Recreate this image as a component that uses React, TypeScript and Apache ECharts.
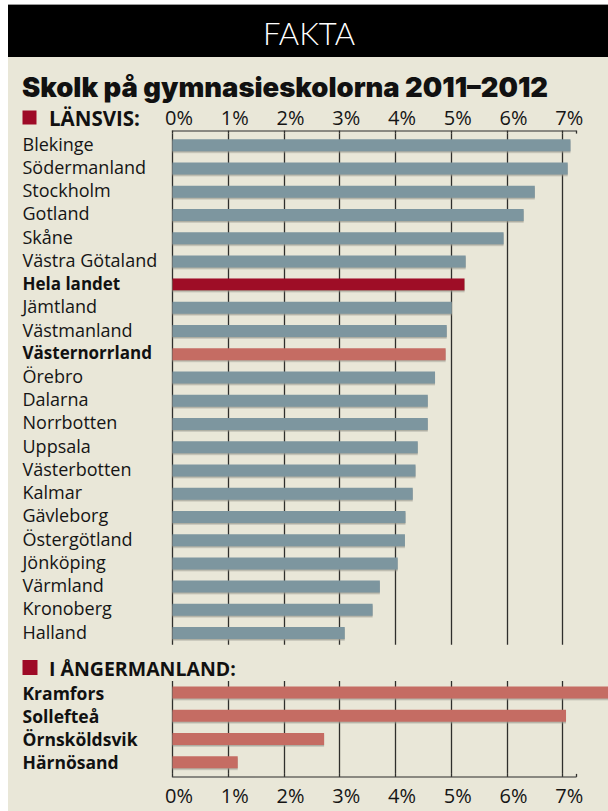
import React, { useEffect, useRef } from "react";
import * as echarts from "echarts";

// ---- data ----
const regions = [
  "Blekinge", "Södermanland", "Stockholm", "Gotland", "Skåne", "Västra Götaland",
  "Hela landet", "Jämtland", "Västmanland", "Västernorrland", "Örebro", "Dalarna",
  "Norrbotten", "Uppsala", "Västerbotten", "Kalmar", "Gävleborg", "Östergötland",
  "Jönköping", "Värmland", "Kronoberg", "Halland",
];
const regionValues = [
  7.14, 7.09, 6.5, 6.3, 5.94, 5.26,
  5.24, 5.01, 4.92, 4.9, 4.71, 4.58,
  4.58, 4.4, 4.36, 4.31, 4.18, 4.17,
  4.04, 3.72, 3.59, 3.09,
];
const nationCategory = "Hela landet";
const homeCategory = "Västernorrland";
const municipalities = ["Kramfors", "Sollefteå", "Örnsköldsvik", "Härnösand"];
const municipalityValues = [8.3, 7.06, 2.72, 1.17];
const tickValues = [0, 1, 2, 3, 4, 5, 6, 7];
const titleText = "Skolk på gymnasieskolorna 2011–2012";
const headerText = "FAKTA";
const section1 = "LÄNSVIS:";
const section2 = "I ÅNGERMANLAND:";

// ---- style ----
const BG = "#E9E7D8";
const BLUE = "#7D969F";
const DARKRED = "#9E0A27";
const SALMON = "#C56C63";
const GRID_COLOR = "#2f2f2c";
const FONT = "'Open Sans', sans-serif";

const X0 = 172.5;
const AXIS_RIGHT = 576;
const PX_PER = 55.74;
const XMAX = (AXIS_RIGHT - X0) / PX_PER;

export default function App() {
  const ref = useRef<HTMLDivElement>(null);
  useEffect(() => {
    if (!ref.current) return;
    const chart = echarts.init(ref.current, undefined, { renderer: "svg" });

    const labelFmt = (v: number) =>
      tickValues.indexOf(Math.round(v * 1000) / 1000) >= 0 ? `${v}%` : "";

    const xAxisCommon = (gridIndex: number, position: "top" | "bottom", margin: number) => ({
      gridIndex,
      type: "value" as const,
      min: 0,
      max: XMAX,
      interval: 1,
      position,
      offset: 3,
      axisLine: { show: true, lineStyle: { color: "#6a6a64", width: 1.5 } },
      axisTick: { show: true, inside: true, length: 3, lineStyle: { color: GRID_COLOR, width: 1.3 } },
      splitLine: {
        show: true,
        showMaxLine: false,
        lineStyle: { color: GRID_COLOR, width: 1.3 },
      },
      axisLabel: {
        formatter: labelFmt,
        fontFamily: FONT,
        fontSize: 20,
        color: "#151515",
        margin,
        padding: [0, 0, 0, 13],
        showMaxLabel: true,
      },
    });

    const option: any = {
      animation: false,
      backgroundColor: "#ffffff",
      grid: [
        { left: X0, width: AXIS_RIGHT - X0, top: 133.6, height: 511.1 },
        { left: X0, width: AXIS_RIGHT - X0, top: 681, height: 92.9 },
      ],
      xAxis: [xAxisCommon(0, "top", 3), xAxisCommon(1, "bottom", 9)],
      yAxis: [
        {
          gridIndex: 0,
          type: "category",
          data: regions,
          inverse: true,
          axisLine: { show: false },
          axisTick: { show: false },
          axisLabel: {
            interval: 0,
            hideOverlap: false,
            align: "left",
            margin: X0 - 22.5,
            fontFamily: FONT,
            fontSize: 18,
            color: "#151515",
            padding: [0, 0, 3, 0],
            formatter: (v: string) =>
              v === nationCategory || v === homeCategory ? `{b|${v}}` : v,
            rich: {
              b: { fontFamily: FONT, fontSize: 17, fontWeight: "bold", color: "#111" },
            },
          },
        },
        {
          gridIndex: 1,
          type: "category",
          data: municipalities,
          inverse: true,
          axisLine: { show: false },
          axisTick: { show: false },
          axisLabel: {
            interval: 0,
            hideOverlap: false,
            align: "left",
            margin: X0 - 22.5,
            fontFamily: FONT,
            fontSize: 17.5,
            fontWeight: "bold",
            color: "#111",
            padding: [0, 0, 2, 0],
          },
        },
      ],
      series: [
        {
          type: "bar",
          xAxisIndex: 0,
          yAxisIndex: 0,
          barWidth: 12,
          data: regions.map((r, i) => ({
            value: regionValues[i],
            itemStyle: {
              color: r === nationCategory ? DARKRED : r === homeCategory ? SALMON : BLUE,
            },
          })),
          itemStyle: { shadowColor: "rgba(150,150,140,0.7)", shadowOffsetY: 1.5, shadowBlur: 0 },
        },
        {
          type: "bar",
          xAxisIndex: 1,
          yAxisIndex: 1,
          barWidth: 12,
          clip: false,
          data: municipalityValues,
          itemStyle: { color: SALMON, shadowColor: "rgba(150,150,140,0.7)", shadowOffsetY: 1.5, shadowBlur: 0 },
        },
      ],
      graphic: [
        { type: "rect", z: -10, shape: { x: 8, y: 4, width: 600, height: 1.2 }, style: { fill: "#9a9a9a" } },
        { type: "rect", z: -10, shape: { x: 8, y: 5, width: 600, height: 52 }, style: { fill: "#000" } },
        { type: "rect", z: -10, shape: { x: 8, y: 57, width: 600, height: 754 }, style: { fill: BG } },
        {
          type: "text",
          x: 309,
          y: 33,
          style: {
            text: headerText,
            fill: "#fff",
            font: "300 31px Lato, sans-serif",
            textAlign: "center",
            textVerticalAlign: "middle",
          },
        },
        {
          type: "text",
          x: 22,
          y: 87,
          style: {
            text: titleText,
            fill: "#111",
            font: "900 27.4px Inter, sans-serif",
            textAlign: "left",
            textVerticalAlign: "middle",
          },
        },
        { type: "rect", shape: { x: 22.5, y: 110.5, width: 14, height: 14 }, style: { fill: DARKRED } },
        {
          type: "text",
          x: 49,
          y: 118,
          style: {
            text: section1,
            fill: "#111",
            font: "bold 20.5px 'Open Sans', sans-serif",
            textAlign: "left",
            textVerticalAlign: "middle",
          },
        },
        { type: "rect", shape: { x: 22.5, y: 660, width: 15, height: 15 }, style: { fill: DARKRED } },
        {
          type: "text",
          x: 49,
          y: 668,
          style: {
            text: section2,
            fill: "#111",
            font: "bold 19.5px 'Open Sans', sans-serif",
            textAlign: "left",
            textVerticalAlign: "middle",
          },
        },
      ],
    };
    chart.setOption(option);
    return () => chart.dispose();
  }, []);

  return (
    <div
      ref={ref}
      style={{ position: "absolute", left: 0, top: 0, width: 608, height: 811 }}
    />
  );
}
